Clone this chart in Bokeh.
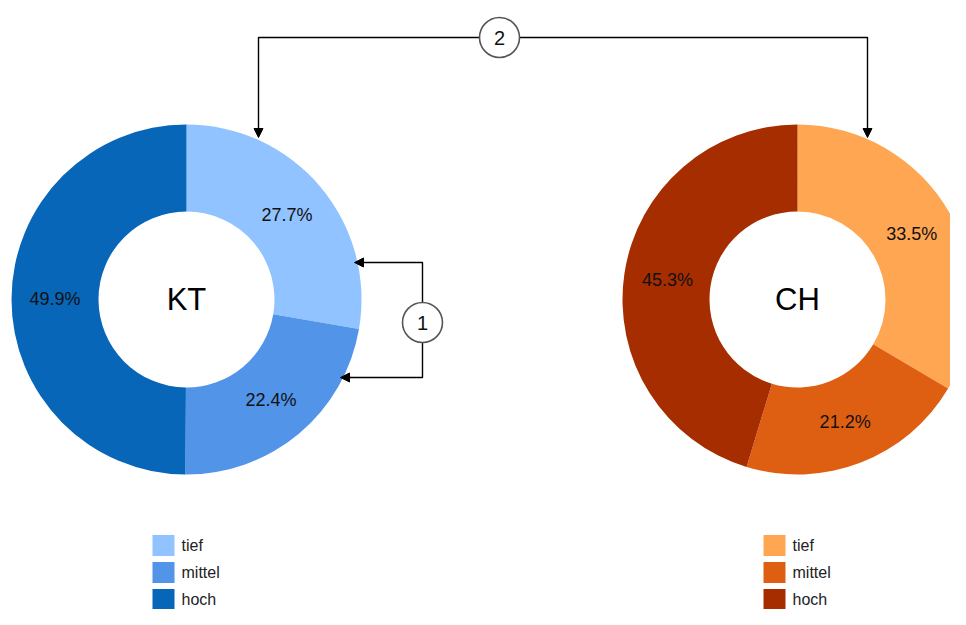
import math
from bokeh.plotting import figure
from bokeh.models import Range1d, Arrow, NormalHead, ColumnDataSource
from bokeh.core.properties import value
from bokeh.embed import file_html
from bokeh.resources import INLINE

# ---- data ----
categories = ["tief", "mittel", "hoch"]
kt_values = [27.7, 22.4, 49.9]
ch_values = [33.5, 21.2, 45.3]
kt_colors = ["#90C3FF", "#5294E8", "#0866B9"]
ch_colors = ["#FFA652", "#DF5F12", "#A62D00"]
groups = ["KT", "CH"]

W, H = 950, 609
def sy(y):  # screen y -> data y
    return 625 - y

p = figure(width=W, height=H, output_backend="svg", toolbar_location=None,
           x_range=Range1d(0, W), y_range=Range1d(625 - H, 625),
           x_axis_location=None, y_axis_location=None, min_border=0)
p.grid.visible = False
p.outline_line_color = None
p.background_fill_color = "white"
p.border_fill_color = "white"

FONT = value("Liberation Sans")
R_OUT, R_IN = 175, 88

def donut(cx, cy, vals, colors, name, legend_x):
    total = sum(vals)
    starts, ends, lx, ly, labels = [], [], [], [], []
    cum = 0.0
    for v in vals:
        a0 = math.pi / 2 - 2 * math.pi * cum / total
        a1 = math.pi / 2 - 2 * math.pi * (cum + v) / total
        starts.append(a0); ends.append(a1)
        mid = (a0 + a1) / 2
        rm = (R_OUT + R_IN) / 2
        lx.append(cx + rm * math.cos(mid)); ly.append(cy + rm * math.sin(mid))
        labels.append(f"{v:.1f}%")
        cum += v
    src = ColumnDataSource(dict(start=starts, end=ends, color=colors))
    p.annular_wedge(x=cx, y=cy, inner_radius=R_IN, outer_radius=R_OUT,
                    start_angle="start", end_angle="end", direction="clock",
                    fill_color="color", line_color=None, source=src)
    p.text(x=lx, y=ly, text=labels, text_align="center", text_baseline="middle",
           text_font=FONT, text_font_size="18px", text_color="#111111")
    p.text(x=[cx], y=[cy], text=[name], text_align="center", text_baseline="middle",
           text_font=FONT, text_font_size="31px", text_color="#000000")
    # legend
    rows = [sy(545), sy(572), sy(599)]
    p.rect(x=[legend_x] * 3, y=rows, width=22, height=21, fill_color=colors,
           line_color=None)
    p.text(x=[legend_x + 18] * 3, y=rows, text=categories, text_align="left",
           text_baseline="middle", text_font=FONT, text_font_size="16px",
           text_color="#222222")

donut(186, sy(299), kt_values, kt_colors, groups[0], 163)
donut(797, sy(299), ch_values, ch_colors, groups[1], 774)

# ---- annotations ----
LC = "#000000"
def arrow(x0, y0, x1, y1):
    p.add_layout(Arrow(end=NormalHead(size=9, fill_color=LC, line_color=LC, line_width=1),
                       x_start=x0, y_start=y0, x_end=x1, y_end=y1,
                       line_color=LC, line_width=1.4))

# annotation 1
p.line([422, 422, 360], [sy(302), sy(262), sy(262)], line_color=LC, line_width=1.4)
arrow(362, sy(262), 354, sy(262))
p.line([422, 422, 348], [sy(342), sy(377), sy(377)], line_color=LC, line_width=1.4)
arrow(350, sy(377), 340, sy(377))
# annotation 2
p.line([479, 258, 258], [sy(37), sy(37), sy(130)], line_color=LC, line_width=1.4)
arrow(258, sy(128), 258, sy(137))
p.line([519, 867, 867], [sy(37), sy(37), sy(130)], line_color=LC, line_width=1.4)
arrow(867, sy(128), 867, sy(137))

p.circle(x=[422, 499], y=[sy(322), sy(37)], radius=20, fill_color="white",
         line_color="#555555", line_width=1.6)
p.text(x=[422, 499], y=[sy(322), sy(37)], text=["1", "2"], text_align="center",
       text_baseline="middle", text_font=FONT, text_font_size="20px",
       text_color="#111111")

open("out.html", "w").write(file_html(p, INLINE))
